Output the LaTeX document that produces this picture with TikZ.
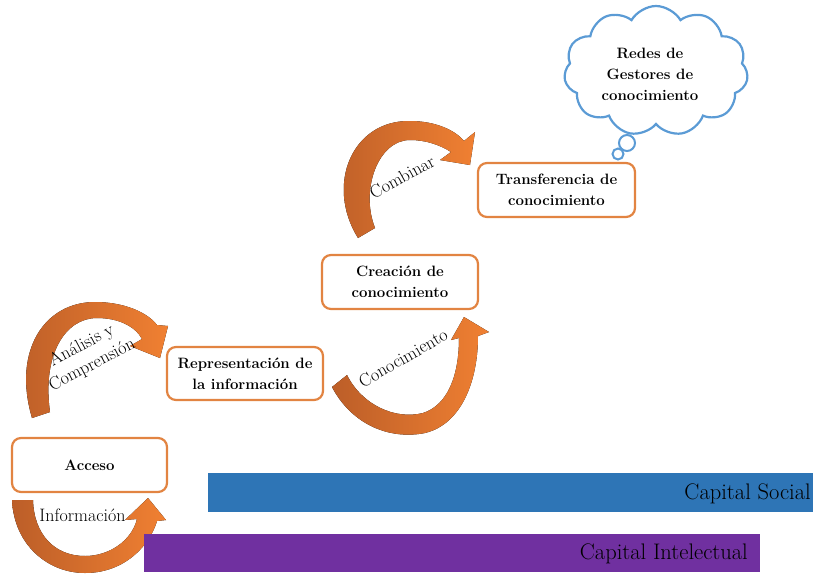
\documentclass[tikz,border=0pt]{standalone}
\usepackage{fontspec}
\usetikzlibrary{shapes.symbols}
\definecolor{boxorange}{RGB}{226,132,66}
\definecolor{tailc}{RGB}{188,94,40}
\definecolor{headc}{RGB}{240,128,50}
\definecolor{socialblue}{RGB}{46,117,182}
\definecolor{intpurple}{RGB}{112,48,160}
\definecolor{cloudblue}{RGB}{91,155,213}
\begin{document}
\begin{tikzpicture}[x=1pt,y=-1pt,
  stepbox/.style={draw=boxorange, line width=2.2pt, rounded corners=9pt, fill=white,
    align=center, font=\fontsize{15}{21}\selectfont\bfseries, inner sep=0pt},
  lbl/.style={font=\fontsize{18}{22}\selectfont, inner sep=0pt, align=center},
  band/.style={left color=tailc, right color=headc, draw=none},
  barbox/.style={inner sep=0pt, anchor=north west, draw=none},
  bartext/.style={font=\fontsize{22.5}{24}\selectfont, text=black, inner sep=0pt, anchor=east},
  cloudline/.style={draw=cloudblue, line width=2.2pt}]
\useasboundingbox (0,0) rectangle (813,573);

% curved arrows
\fill[band] (12,500) .. controls (14,545) and (48,573) .. (85,573)
  .. controls (125,573) and (150,545) .. (157,521) -- (166,520) -- (148,498) -- (125,520) -- (137,519)
  .. controls (132,540) and (110,556) .. (85,556) .. controls (55,556) and (34,535) .. (33,500) -- cycle;
\fill[band] (32,418) .. controls (12,350) and (45,302) .. (95,302)
  .. controls (125,302) and (148,313) .. (157,325) -- (168,326) -- (160,358) -- (130,346) -- (142,339)
  .. controls (135,326) and (118,318) .. (97,318) .. controls (65,318) and (42,355) .. (50,412) -- cycle;
\fill[band] (332,387) .. controls (352,425) and (390,440) .. (425,433)
  .. controls (462,424) and (478,380) .. (478,336) -- (489,332) -- (464,317) -- (451,340) -- (459,338)
  .. controls (459,375) and (448,405) .. (423,413) .. controls (395,420) and (362,405) .. (347,375) -- cycle;
\fill[band] (358,238) .. controls (325,185) and (352,120) .. (410,121)
  .. controls (435,121) and (455,130) .. (464,141) -- (475,132) -- (470,165) -- (440,160) -- (451,152)
  .. controls (440,145) and (426,140) .. (410,140) .. controls (378,140) and (360,190) .. (375,228) -- cycle;

% bars
\node[barbox, fill=socialblue, minimum width=605, minimum height=39] (social) at (208,473) {};
\node[barbox, fill=intpurple, minimum width=616, minimum height=38] (intel) at (144,534) {};
\node[bartext] (socialtxt) at (811,494) {Capital Social};
\node[bartext] (inteltxt) at (748,554) {Capital Intelectual};

% boxes
\node[stepbox, minimum width=155, minimum height=54] (acc) at (89.5,465) {Acceso};
\node[stepbox, minimum width=156, minimum height=53] (rep) at (245,373.5) {Representación de\\la información};
\node[stepbox, minimum width=156, minimum height=54] (cre) at (400,282) {Creación de\\conocimiento};
\node[stepbox, minimum width=157, minimum height=54] (tra) at (556.5,190) {Transferencia de\\conocimiento};

% labels
\node[lbl] (linf) at (82.5,515) {Información};
\node[lbl, rotate=28] (lana) at (87,355.5) {Análisis y\\Comprensión};
\node[lbl, rotate=30] (lcon) at (403,358) {Conocimiento};
\node[lbl, rotate=29] (lcom) at (402,177) {Combinar};

% cloud
\node[cloud, cloud puffs=11, cloud puff arc=120, cloud ignores aspect, cloudline, fill=white,
  minimum width=184, minimum height=130, inner sep=0pt] (cl) at (656,71) {};
\node[align=center, font=\fontsize{15}{21}\selectfont\bfseries, inner sep=0pt] (cltxt) at (650,74)
  {Redes de\\Gestores de\\conocimiento};
\node[circle, draw=cloudblue, line width=2pt, minimum size=16, inner sep=0pt] (b1) at (627,143) {};
\node[circle, draw=cloudblue, line width=2pt, minimum size=11, inner sep=0pt] (b2) at (618,154) {};
\end{tikzpicture}
\end{document}
